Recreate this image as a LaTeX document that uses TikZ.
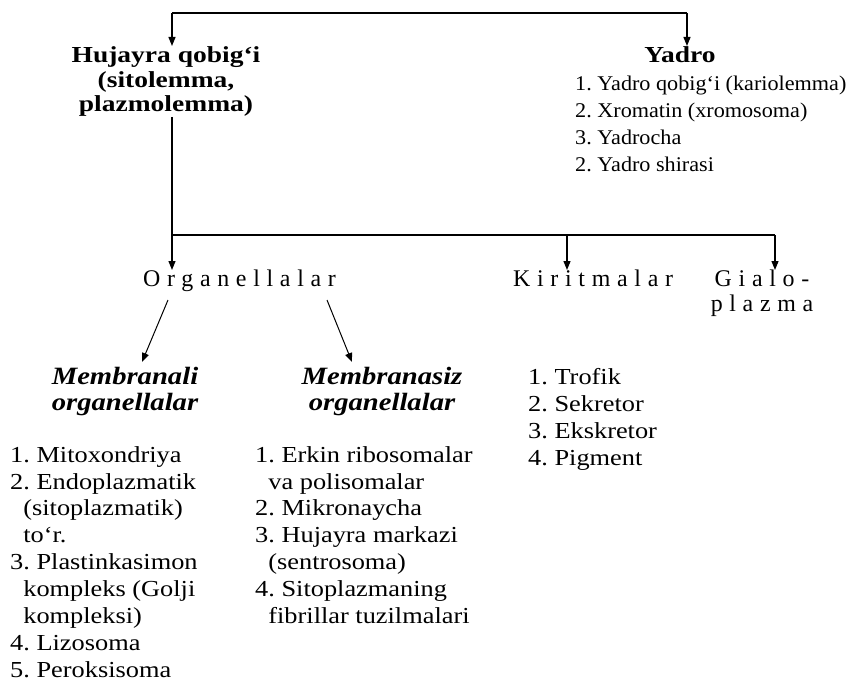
\documentclass[tikz,border=0pt]{standalone}
\usepackage{fontspec}
\setmainfont{Liberation Serif}
\usetikzlibrary{arrows.meta}

\begin{document}
\begin{tikzpicture}[x=1bp,y=-1bp,
  arr/.style={-{Triangle[length=9bp,width=7bp]},line width=1.2bp},
  head/.style={font=\fontsize{23}{25}\selectfont\bfseries\addfontfeature{FakeStretch=1.2},align=center,inner sep=0pt},
  spaced/.style={font=\fontsize{24}{25}\selectfont\addfontfeature{LetterSpace=28},align=center,inner sep=0pt},
  group/.style={font=\fontsize{25}{26}\selectfont\bfseries\itshape\addfontfeature{FakeStretch=1.15},align=center,inner sep=0pt},
  list/.style={font=\fontsize{23}{27}\selectfont\addfontfeature{FakeStretch=1.15}\frenchspacing,align=left,inner sep=0pt},
  ylist/.style={font=\fontsize{21}{27}\selectfont\addfontfeature{FakeStretch=1.06}\frenchspacing,align=left,inner sep=0pt}]
\useasboundingbox (0,0) rectangle (851,698);
% top level
\coordinate (tl) at (172,13);
\coordinate (tr) at (687,13);
\node[head,anchor=north] (huj) at (166,46) {Hujayra qobig‘i\\(sitolemma,\\plazmolemma)};
\node[head,anchor=north] (yad) at (680,46) {Yadro};
\node[ylist,anchor=north west] (yadlist) at (575,76) {1. Yadro qobig‘i (kariolemma)\\2. Xromatin (xromosoma)\\3. Yadrocha\\2. Yadro shirasi};
\draw[line width=1.2bp] (tl) -- (tr);
\draw[arr] (tl) -- (tl |- huj.north);
\draw[arr] (tr) -- (tr |- yad.north);
% cytoplasm parts
\node[spaced,anchor=north west] (org) at (143,270) {Organellalar};
\node[spaced,anchor=north west] (kir) at (513,270) {Kiritmalar};
\node[spaced,anchor=north] (gia) at (762,270) {Gialo-\\plazma};
\coordinate (bl) at (172,235);
\coordinate (bk) at (567,235);
\coordinate (br) at (775,235);
\draw[line width=1.2bp] (tl |- huj.south) -- (bl) -- (br);
\draw[arr] (bl) -- (bl |- org.north);
\draw[arr] (bk) -- (bk |- kir.north);
\draw[arr] (br) -- (br |- gia.north);
% organelles
\node[group,anchor=north] (mem) at (125,367) {Membranali\\organellalar};
\node[group,anchor=north] (nmem) at (382,367) {Membranasiz\\organellalar};
\draw[arr,line width=1bp] (168,300) -- (142,362);
\draw[arr,line width=1bp] (327,300) -- (352,362);
\node[list,anchor=north west] (memlist) at (10,446) {1. Mitoxondriya\\2. Endoplazmatik\\\ \ (sitoplazmatik)\\\ \ to‘r.\\3. Plastinkasimon\\\ \ kompleks (Golji\\\ \ kompleksi)\\4. Lizosoma\\5. Peroksisoma};
\node[list,anchor=north west] (nmemlist) at (255,446) {1. Erkin ribosomalar\\\ \ va polisomalar\\2. Mikronaycha\\3. Hujayra markazi\\\ \ (sentrosoma)\\4. Sitoplazmaning\\\ \ fibrillar tuzilmalari};
\node[list,anchor=north west] (kirlist) at (528,368) {1. Trofik\\2. Sekretor\\3. Ekskretor\\4. Pigment};
\end{tikzpicture}
\end{document}
